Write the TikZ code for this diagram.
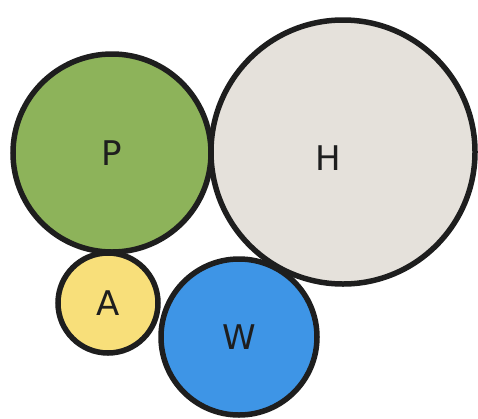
\documentclass[tikz,border=0pt]{standalone}
\usepackage{fontspec}
\setsansfont{DejaVu Sans}
\definecolor{pgreen}{HTML}{8DB35A}
\definecolor{hgray}{HTML}{E5E1DB}
\definecolor{ayellow}{HTML}{F8DF7A}
\definecolor{wblue}{HTML}{3E95E6}
\definecolor{ink}{HTML}{1E1E1E}
\begin{document}
\begin{tikzpicture}[x=1pt,y=-1pt,
  lettertext/.style={text=ink,font=\sffamily\fontsize{34}{34}\selectfont},
  bubble/.style={circle,draw=ink,line width=5.5pt,inner sep=0pt,lettertext}]
\useasboundingbox (0,0) rectangle (478,418);
\fill[white] (0,0) rectangle (478,418);
\node[bubble,fill=pgreen,minimum size=198pt] (P) at (112,153) {P};
\node[bubble,fill=hgray,minimum size=264pt] (H) at (343,152) {};
\node[lettertext] (Hl) at (328,158) {H};
\node[bubble,fill=ayellow,minimum size=100pt] (A) at (108,303) {A};
\node[bubble,fill=wblue,minimum size=156pt] (W) at (239,337) {W};
\end{tikzpicture}
\end{document}
